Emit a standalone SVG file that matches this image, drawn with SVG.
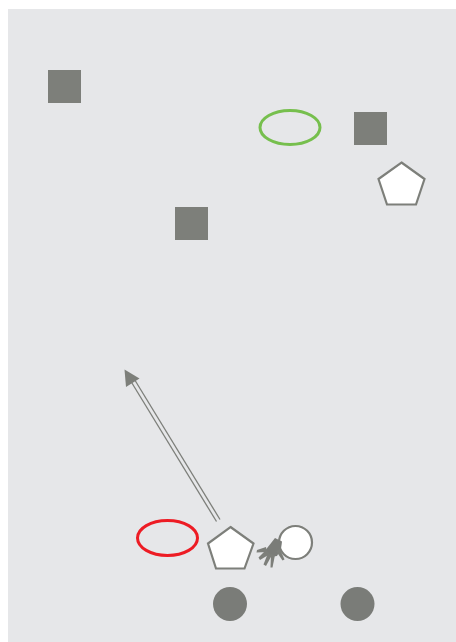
<svg xmlns="http://www.w3.org/2000/svg" width="456" height="642" viewBox="0 0 456 642">
<style>
.sq{fill:#7d7f7a}
.dot{fill:#7a7c78}
.pent{fill:#fff;stroke:#7d7f7a;stroke-width:2.200;stroke-linejoin:miter}
.line{stroke:#7d7f7a;stroke-width:1.300;fill:none}
.finger{fill:#7d7f7a}
</style>
<rect width="456" height="642" fill="#fff"/>
<rect x="8" y="9" width="448" height="633" fill="#e6e7e9"/>
<g id="square-1"><rect class="sq" x="48" y="70" width="33" height="33"/></g>
<g id="square-2"><rect class="sq" x="354" y="112" width="33" height="33"/></g>
<g id="square-3"><rect class="sq" x="175" y="207" width="33" height="33"/></g>
<g id="ellipse-green"><ellipse cx="290" cy="127.500" rx="30" ry="17" fill="none" stroke="#76bf4d" stroke-width="3"/></g>
<g id="ellipse-red"><ellipse cx="167.500" cy="538" rx="30" ry="17.500" fill="none" stroke="#ed1c24" stroke-width="3"/></g>
<g id="pentagon-1"><polygon class="pent" points="401.500,162.500 424.500,179 416,204.500 387,204.500 378.500,179"/></g>
<g id="pentagon-2"><polygon class="pent" points="230.500,527 253.500,543.500 244.500,568.500 216,568.500 208,543.500"/></g>
<g id="circle-open"><circle cx="295.500" cy="542.500" r="16.500" fill="#fff" stroke="#7d7f7a" stroke-width="2.200"/></g>
<g id="splat">
<path class="dot" d="M275 538 L282 541.500 L281 549 L277 556 L270 557 L264 552 Z"/>
<path class="finger" d="M266 547 L257 550 L256.500 552.500 L267 552 Z"/>
<path class="finger" d="M266 550 L258.500 557.500 L260 560 L270 554 Z"/>
<path class="finger" d="M268 553 L263.500 564.500 L266 566 L272 555 Z"/>
<path class="finger" d="M271 554 L270.500 567.500 L272.500 567.500 L275 555 Z"/>
<path class="finger" d="M276 551 L282.500 560.500 L284.500 559.500 L280 549 Z"/>
</g>
<g id="dot-1"><circle class="dot" cx="230" cy="604" r="17"/></g>
<g id="dot-2"><circle class="dot" cx="357.500" cy="604" r="17"/></g>
<g id="connectors">
<path class="line" d="M131 381.500 L216.500 521.500"/>
<path class="line" d="M134.500 379.500 L220 519.500"/>
<polygon class="sq" points="124.500,369.500 139.500,378.500 126,387"/>
</g>
</svg>
